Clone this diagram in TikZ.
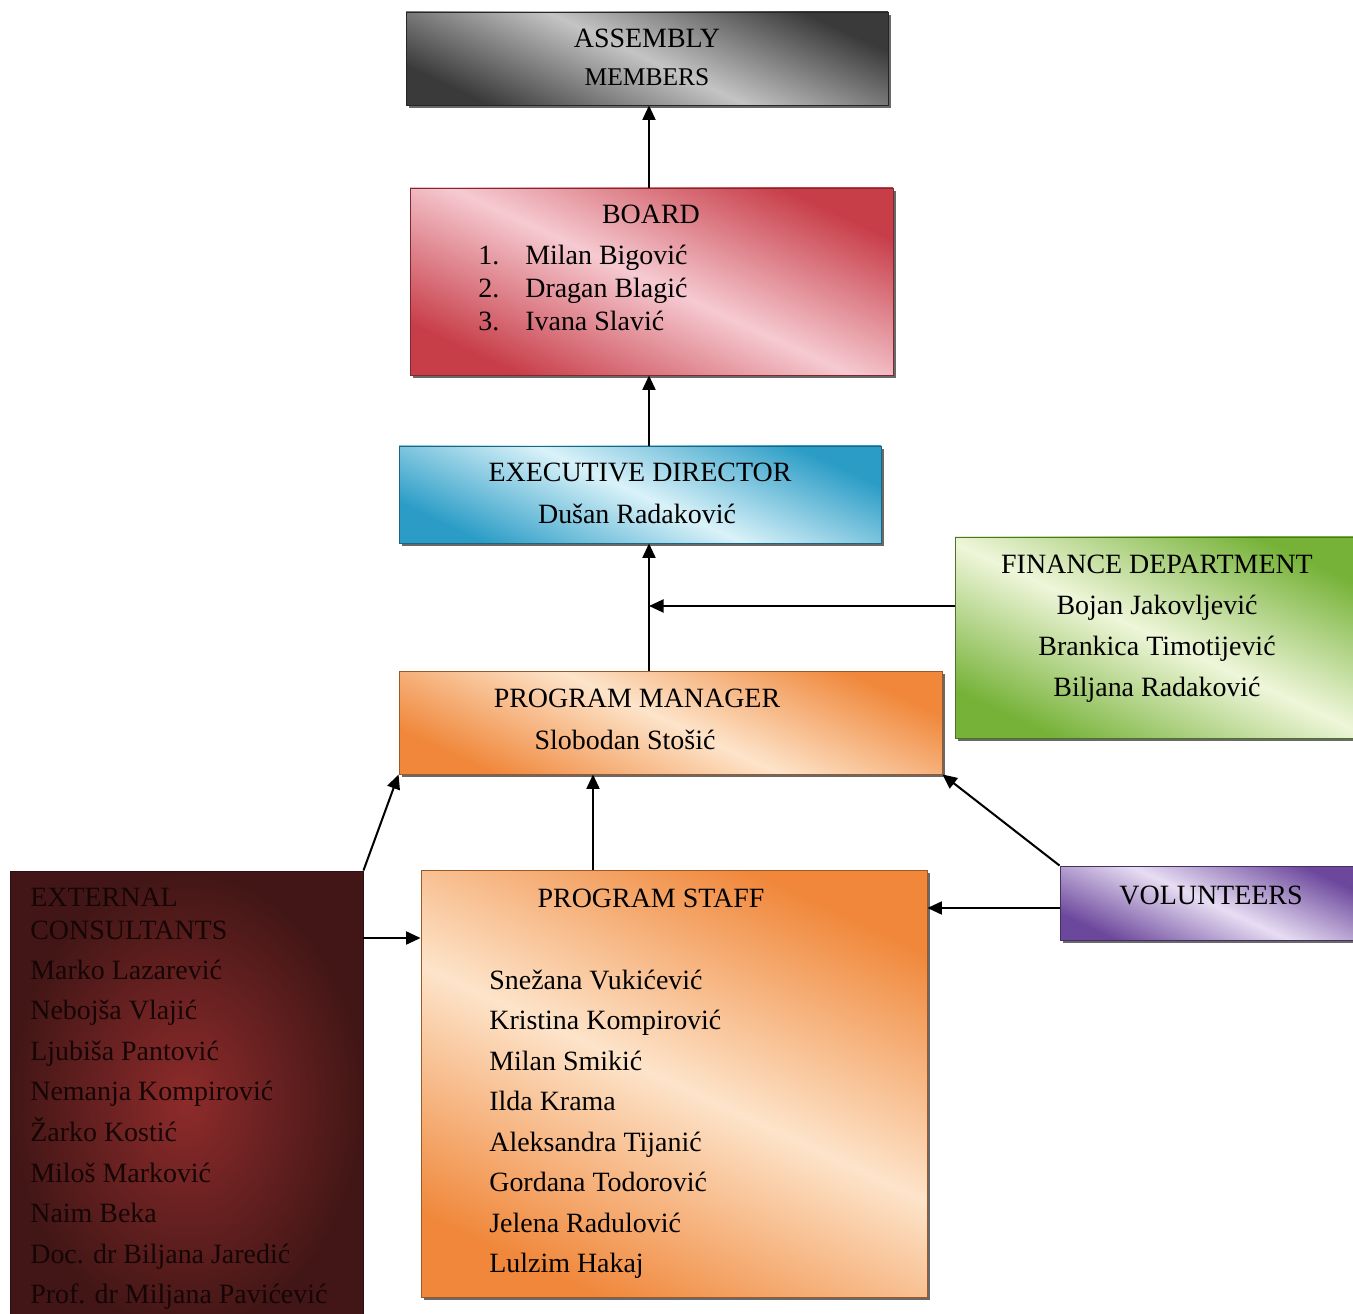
\documentclass[tikz,border=0pt]{standalone}
\usepackage{fontspec}
\setmainfont{Liberation Serif}
\usetikzlibrary{shadows,arrows.meta,fit}
\definecolor{asmD}{HTML}{3A3A3A}\definecolor{asmL}{HTML}{C4C4C4}
\definecolor{brdD}{HTML}{C73D48}\definecolor{brdL}{HTML}{F6CAD1}
\definecolor{exeD}{HTML}{2A9CC6}\definecolor{exeL}{HTML}{DAF2F9}
\definecolor{finD}{HTML}{76B238}\definecolor{finL}{HTML}{EFF6DA}
\definecolor{orgD}{HTML}{F0873A}\definecolor{orgL}{HTML}{FDE4CA}
\definecolor{volD}{HTML}{6C489C}\definecolor{volL}{HTML}{E7DDF3}
\definecolor{conD}{HTML}{421616}\definecolor{conL}{HTML}{8E2B2B}
\definecolor{conT}{HTML}{160505}
\begin{document}
\begin{tikzpicture}[x=0.02cm,y=-0.02cm,
  box/.style 2 args={draw=#1!65!black, line width=0.5pt, inner sep=0pt,
    shade, shading=axis, top color=#1, bottom color=#1, middle color=#2, shading angle=155,
    drop shadow={shadow xshift=0.06cm, shadow yshift=-0.06cm, fill=black!65, opacity=0.9}},
  radbox/.style={draw=conD!70!black, line width=0.5pt, inner sep=0pt,
    shade, shading=radial, inner color=conL, outer color=conD},
  lbl/.style={inner sep=0pt, anchor=base, font=\fontsize{15.9}{19}\selectfont},
  lbll/.style={lbl, anchor=base west},
  arr/.style={-{Triangle[length=0.29cm,width=0.26cm]}, line width=1.15pt, black}]
\useasboundingbox[fill=white] (0,0) rectangle (1353,1314);

% boxes
\node[box={asmD}{asmL}, fit={(406,12)(888,105)}] (assembly) {};
\node[box={brdD}{brdL}, fit={(410,188)(893,375)}] (board) {};
\node[box={exeD}{exeL}, fit={(399,446)(881,543)}] (exec) {};
\node[box={finD}{finL}, fit={(955,537)(1360,738)}] (finance) {};
\node[box={orgD}{orgL}, fit={(399,671)(942,774)}] (pm) {};
\node[box={orgD}{orgL}, fit={(421,870)(927,1297)}] (staff) {};
\node[box={volD}{volL}, fit={(1060,866)(1360,940)}] (vol) {};
\node[radbox, fit={(10,871)(363,1330)}] (cons) {};

% texts
\node[lbl] (tA1) at (647,48) {ASSEMBLY};
\node[lbl, font=\fontsize{14.5}{17}\selectfont] (tA2) at (647,86) {MEMBERS};

\node[lbl] (tB0) at (651,224) {BOARD};
\foreach \n/\t [count=\i] in {1/Milan Bigović,2/Dragan Blagić,3/Ivana Slavić}{
  \node[lbll] (bn\i) at (478,{265+33*(\i-1)}) {\n.};
  \node[lbll] (bt\i) at (525,{265+33*(\i-1)}) {\t};
}

\node[lbl] (tE1) at (640,482) {EXECUTIVE DIRECTOR};
\node[lbl] (tE2) at (637,523) {Dušan Radaković};

\node[lbl] (tF0) at (1157,574) {FINANCE DEPARTMENT};
\foreach \t [count=\i] in {Bojan Jakovljević,Brankica Timotijević,Biljana Radaković}{
  \node[lbl] (tf\i) at (1157,{614+41*(\i-1)}) {\t};
}

\node[lbl] (tP1) at (637,707) {PROGRAM MANAGER};
\node[lbl] (tP2) at (625,749) {Slobodan Stošić};

\node[lbl] (tS0) at (651,907) {PROGRAM STAFF};
\foreach \t [count=\i] in {Snežana Vukićević,Kristina Kompirović,Milan Smikić,Ilda Krama,Aleksandra Tijanić,Gordana Todorović,Jelena Radulović,Lulzim Hakaj}{
  \node[lbll] (ts\i) at (489,{989+40.5*(\i-1)}) {\t};
}

\node[lbl] (tV) at (1211,904) {VOLUNTEERS};

\node[lbll, text=conT] (tC1) at (30,906) {EXTERNAL};
\node[lbll, text=conT] (tC2) at (30,939) {CONSULTANTS};
\foreach \t [count=\i] in {Marko Lazarević,Nebojša Vlajić,Ljubiša Pantović,Nemanja Kompirović,Žarko Kostić,Miloš Marković,Naim Beka,Doc. dr Biljana Jaredić,Prof. dr Miljana Pavićević}{
  \node[lbll, text=conT] (tc\i) at (30,{979+40.6*(\i-1)}) {\t};
}

% connectors
\coordinate (fj) at (649,606);
\draw[arr] (649,0 |- board.north) -- (649,0 |- assembly.south);
\draw[arr] (649,0 |- exec.north) -- (649,0 |- board.south);
\draw[arr] (649,0 |- pm.north) -- (649,0 |- exec.south);
\draw[arr] (finance.west |- fj) -- (fj);
\draw[arr] (593,0 |- staff.north) -- (593,0 |- pm.south);
\draw[arr] (cons.north east) -- (pm.south west);
\draw[arr] (cons.east |- 0,938) -- (staff.west |- 0,938);
\draw[arr] (vol.north west) -- (pm.south east);
\draw[arr] (vol.west |- 0,908) -- (staff.east |- 0,908);
\end{tikzpicture}
\end{document}
